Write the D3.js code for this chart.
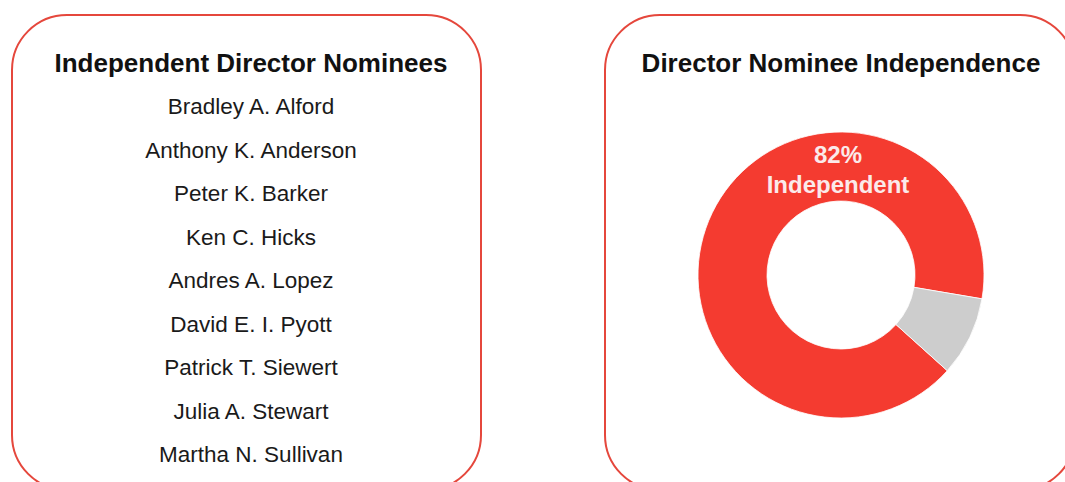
<!DOCTYPE html>
<html><head><meta charset="utf-8">
<script src="https://cdn.jsdelivr.net/npm/d3@7"></script>
<style>html,body{margin:0;padding:0;background:#fff;overflow:hidden}svg{display:block}</style>
</head><body>
<svg id="c" width="1065" height="482"></svg>
<script>
const leftTitle = "Independent Director Nominees";
const rightTitle = "Director Nominee Independence";
const nominees = ["Bradley A. Alford","Anthony K. Anderson","Peter K. Barker","Ken C. Hicks","Andres A. Lopez","David E. I. Pyott","Patrick T. Siewert","Julia A. Stewart","Martha N. Sullivan"];
const sliceLabels = ["Independent","Not Independent"];
const sliceValues = [91, 9];
const sliceColors = ["#f43b30","#cdcdcd"];
const centerLabel = ["82%","Independent"];

const svg = d3.select("#c");
const font = "'Liberation Sans', Arial, Helvetica, sans-serif";
const border = "#e5473c";

// panels
svg.append("rect").attr("x",12).attr("y",15).attr("width",469).attr("height",475)
  .attr("rx",55).attr("fill","#fff").attr("stroke",border).attr("stroke-width",2);
svg.append("rect").attr("x",605).attr("y",15).attr("width",470).attr("height",475)
  .attr("rx",55).attr("fill","#fff").attr("stroke",border).attr("stroke-width",2);

// left panel
svg.append("text").attr("x",251).attr("y",72).attr("text-anchor","middle")
  .attr("font-family",font).attr("font-weight","bold").attr("font-size",26)
  .attr("fill","#111").text(leftTitle);

const y = d3.scalePoint().domain(nominees).range([114,462]);
svg.append("g").selectAll("text").data(nominees).join("text")
  .attr("x",251).attr("y",d=>y(d)).attr("text-anchor","middle")
  .attr("font-family",font).attr("font-size",22.5).attr("fill","#1a1a1a").text(d=>d);

// right panel
svg.append("text").attr("x",841).attr("y",72).attr("text-anchor","middle")
  .attr("font-family",font).attr("font-weight","bold").attr("font-size",26)
  .attr("fill","#111").text(rightTitle);

const cx = 841, cy = 275;
const pie = d3.pie().sort(null).value(d=>d.v)
  .startAngle(132*Math.PI/180).endAngle((132+360)*Math.PI/180);
const arc = d3.arc().innerRadius(74).outerRadius(143);
const data = sliceLabels.map((l,i)=>({l, v:sliceValues[i], c:sliceColors[i]}));
const g = svg.append("g").attr("transform",`translate(${cx},${cy})`);
g.selectAll("path").data(pie(data)).join("path")
  .attr("d",arc).attr("fill",d=>d.data.c).attr("stroke","#fff").attr("stroke-width",0.8);

g.selectAll("text.lab").data(centerLabel).join("text").attr("class","lab")
  .attr("x",-3).attr("y",(d,i)=>-112+i*30).attr("text-anchor","middle")
  .attr("font-family",font).attr("font-weight","bold").attr("font-size",24)
  .attr("fill","#fbeaea").text(d=>d);
</script>
</body></html>
